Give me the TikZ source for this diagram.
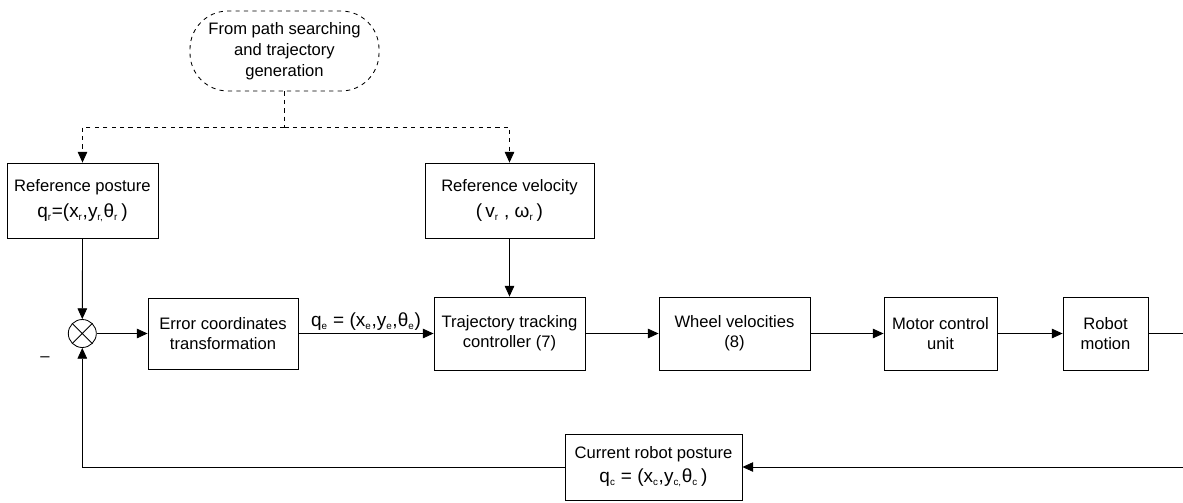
\documentclass[tikz,border=0pt]{standalone}
\usepackage{fontspec}
\setmainfont{Liberation Sans}
\usetikzlibrary{arrows.meta}

\newcommand{\lowidx}[1]{\textsubscript{\fontsize{7}{8}\selectfont #1}}
\newcommand{\eqsize}{\fontsize{13.5}{16}\selectfont}

\tikzset{
  blk/.style={draw, line width=0.6pt, align=center, inner sep=0pt,
    font=\fontsize{11.8}{14}\selectfont},
  link/.style={line width=0.6pt, -{Triangle[length=0.27cm, width=0.24cm]}},
  wire/.style={line width=0.6pt}
}

\begin{document}
\begin{tikzpicture}[x=0.025cm, y=-0.025cm]
\useasboundingbox (0,0) rectangle (1183,502);

% source of the reference signals
\node[blk, dashed, rounded corners=0.95cm, minimum width=189*0.025cm,
  minimum height=80*0.025cm, font=\fontsize{11.8}{15}\selectfont] (src) at (284.5,51)
  {From path searching\\and trajectory\\generation};

\node[blk, minimum width=151*0.025cm, minimum height=75*0.025cm] (refpos) at (82.5,200.5)
  {Reference posture\\[4pt]{\eqsize q\lowidx{r}=(x\lowidx{r},y\lowidx{r,}θ\lowidx{r}\,)}};
\node[blk, minimum width=169*0.025cm, minimum height=75*0.025cm] (refvel) at (509.5,200.5)
  {Reference velocity\\[4pt]{\eqsize (\,v\lowidx{r} , ω\lowidx{r}\,)}};

% main loop
\node[draw, circle, line width=0.6pt, minimum size=28*0.025cm, inner sep=0pt] (sum) at (82.3,333.5) {};
\draw[wire] (sum.north west) -- (sum.south east) (sum.north east) -- (sum.south west);
\node at (45,359) {\fontsize{11.8}{14}\selectfont –};

\node[blk, minimum width=150*0.025cm, minimum height=71*0.025cm] (err) at (223,333.5)
  {Error coordinates\\transformation};
\node[blk, minimum width=151*0.025cm, minimum height=73*0.025cm] (traj) at (509.5,333.5)
  {Trajectory tracking\\controller (7)};
\node[blk, minimum width=151*0.025cm, minimum height=73*0.025cm] (wheel) at (734.5,333.5)
  {Wheel velocities\\(8)};
\node[blk, minimum width=113*0.025cm, minimum height=73*0.025cm] (motor) at (940.5,333.5)
  {Motor control\\unit};
\node[blk, minimum width=85*0.025cm, minimum height=73*0.025cm] (robot) at (1105.5,333.5)
  {Robot\\motion};

\node[blk, minimum width=177*0.025cm, minimum height=66*0.025cm] (cur) at (653.5,467)
  {Current robot posture\\[3pt]{\eqsize q\lowidx{c} = (x\lowidx{c},y\lowidx{c,}θ\lowidx{c}\,)}};

\node[anchor=south, inner sep=1pt] (qe) at (366,332)
  {\eqsize q\lowidx{e} = (x\lowidx{e},y\lowidx{e},θ\lowidx{e})};

\coordinate (split) at (284.5,127);
\coordinate (outA) at (1195,333.5);
\coordinate (outB) at (1195,467);

% dashed feeds
\draw[wire, dashed] (src.south) -- (split);
\draw[link, dashed] (split) -| (refpos.north);
\draw[link, dashed] (split) -| (refvel.north);

\draw[link] (refpos.south) -- (sum.north);
\draw[link] (refvel.south) -- (traj.north);
\draw[link] (sum.east) -- (err.west);
\draw[link] (err.east) -- (traj.west);
\draw[link] (traj.east) -- (wheel.west);
\draw[link] (wheel.east) -- (motor.west);
\draw[link] (motor.east) -- (robot.west);
\draw[wire] (robot.east) -- (outA) -- (outB);
\draw[link] (outB) -- (cur.east);
\draw[link] (cur.west) -| (sum.south);
\end{tikzpicture}
\end{document}
